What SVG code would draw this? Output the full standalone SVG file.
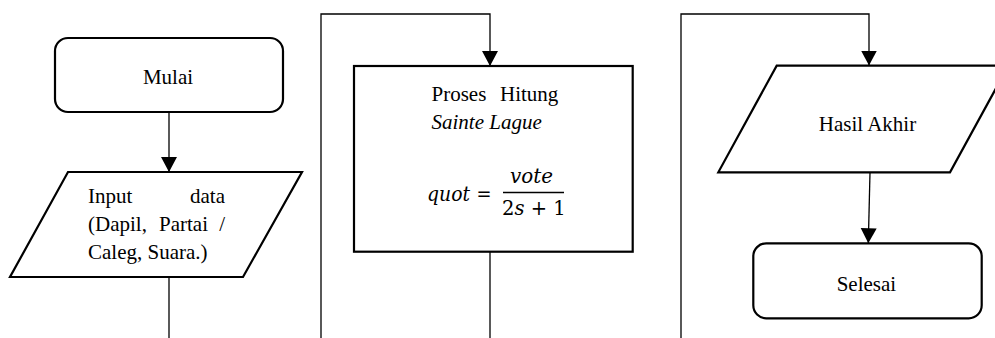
<svg xmlns="http://www.w3.org/2000/svg" width="995" height="338" viewBox="0 0 995 338">
<style>
.shape{fill:#fff;stroke:#000;stroke-width:2.2}
.conn{fill:none;stroke:#000;stroke-width:1.3}
text{fill:#000}
</style>
<defs>
<marker id="arr" markerUnits="userSpaceOnUse" markerWidth="16" markerHeight="17" refX="15" refY="8" orient="auto">
<path d="M0,0 L15,8 L0,16 z" fill="#000"/>
</marker>
</defs>
<rect width="995" height="338" fill="#fff"/>
<g id="connectors">
<line class="conn" x1="169" y1="112" x2="169" y2="172" marker-end="url(#arr)"/>
<line class="conn" x1="169" y1="277" x2="169" y2="338"/>
<polyline class="conn" points="321,338 321,14 490,14 490,66" marker-end="url(#arr)"/>
<line class="conn" x1="490" y1="252" x2="490" y2="338"/>
<polyline class="conn" points="681,338 681,14 869,14 869,65.5" marker-end="url(#arr)"/>
<line class="conn" x1="870" y1="172.3" x2="868.3" y2="243.3" marker-end="url(#arr)"/>
</g>
<g font-family="'Liberation Serif', 'Times New Roman', serif" font-size="21">
<g id="mulai">
<rect class="shape" x="55" y="38" width="228" height="74" rx="13"/>
<text x="168" y="84" text-anchor="middle">Mulai</text>
</g>
<g id="input">
<polygon class="shape" points="68,172 302,172 243,277 10,277"/>
<text x="88" y="203">Input</text>
<text x="225" y="203" text-anchor="end">data</text>
<text x="88" y="231">(Dapil,</text>
<text x="159" y="231">Partai</text>
<text x="225" y="231" text-anchor="end">/</text>
<text x="88" y="259">Caleg, Suara.)</text>
</g>
<g id="proses">
<rect class="shape" x="354" y="66" width="278.7" height="185.7"/>
<text x="431.5" y="101">Proses</text>
<text x="500" y="101">Hitung</text>
<text x="431.5" y="129.3" font-style="italic">Sainte Lague</text>
<g font-family="'DejaVu Serif', serif" font-size="19.5">
<text x="427" y="200.7" font-style="italic" textLength="43" lengthAdjust="spacingAndGlyphs">quot</text>
<text x="476.5" y="200.7" textLength="15" lengthAdjust="spacingAndGlyphs">=</text>
<text x="510" y="182.7" font-style="italic" textLength="43" lengthAdjust="spacingAndGlyphs">vote</text>
<line x1="503" y1="192.5" x2="564" y2="192.5" stroke="#000" stroke-width="1.6"/>
<text x="502" y="215">2<tspan font-style="italic">s</tspan> + 1</text>
</g>
</g>
<g id="hasil">
<polygon class="shape" points="776.7,65.7 1008.4,65.7 950,172.3 718.3,172.3"/>
<text x="867.5" y="130.7" text-anchor="middle">Hasil Akhir</text>
</g>
<g id="selesai">
<rect class="shape" x="753.3" y="243.3" width="228.4" height="75" rx="13"/>
<text x="866.4" y="290.7" text-anchor="middle">Selesai</text>
</g>
</g>
</svg>
